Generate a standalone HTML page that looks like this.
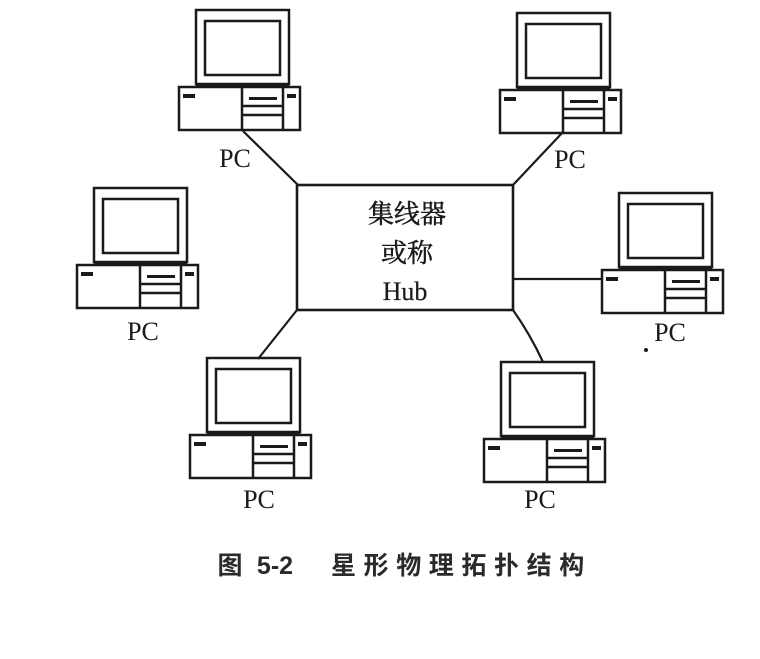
<!DOCTYPE html>
<html><head><meta charset="utf-8"><style>
html,body{margin:0;padding:0;background:#fff;}
svg{display:block;}
.pc{font-family:"Liberation Serif",serif;font-size:26px;fill:#1a1a1a;}
.hz{font-family:"Liberation Serif","Noto Serif CJK SC",serif;font-size:26px;fill:#1a1a1a;stroke:#1a1a1a;stroke-width:0.5px;}
.cap{font-family:"Liberation Sans","Noto Sans CJK SC",sans-serif;font-size:25px;font-weight:bold;fill:#2a2a2a;}
</style></head><body>
<svg width="760" height="659" viewBox="0 0 760 659" xmlns="http://www.w3.org/2000/svg">
<defs>
<g id="pcs" fill="none" stroke="#1a1a1a" stroke-width="2.5">
  <rect x="17" y="0" width="93" height="74"/>
  <rect x="26" y="11" width="75" height="54"/>
  <rect x="17" y="73" width="93" height="4" fill="#1a1a1a" stroke="none"/>
  <rect x="0" y="77" width="121" height="43"/>
  <line x1="63" y1="77" x2="63" y2="120"/>
  <line x1="104" y1="77" x2="104" y2="120"/>
  <rect x="70" y="87" width="28" height="3" fill="#1a1a1a" stroke="none"/>
  <line x1="63" y1="96" x2="104" y2="96"/>
  <line x1="63" y1="105" x2="104" y2="105"/>
  <rect x="4" y="84" width="12" height="4" fill="#1a1a1a" stroke="none"/>
  <rect x="108" y="84" width="9" height="4" fill="#1a1a1a" stroke="none"/>
</g>
</defs>
<rect width="760" height="659" fill="#fff"/>

<!-- connectors -->
<g stroke="#1a1a1a" stroke-width="2.2" fill="none">
  <line x1="243" y1="131" x2="298" y2="185"/>
  <line x1="563" y1="132" x2="513" y2="185"/>
  <line x1="513" y1="279" x2="603" y2="279"/>
  <line x1="297" y1="310" x2="258" y2="359"/>
  <path d="M513,310 Q530,334 543,362"/>
</g>

<!-- hub -->
<rect x="297" y="185" width="216" height="125" fill="none" stroke="#1a1a1a" stroke-width="2.6"/>
<text class="hz" x="407" y="223" text-anchor="middle">集线器</text>
<text class="hz" x="407" y="262" text-anchor="middle">或称</text>
<text class="hz" x="405" y="300" text-anchor="middle" style="stroke-width:0.2px">Hub</text>

<!-- PCs -->
<use href="#pcs" transform="translate(179,10)"/>
<use href="#pcs" transform="translate(500,13)"/>
<use href="#pcs" transform="translate(77,188)"/>
<use href="#pcs" transform="translate(602,193)"/>
<use href="#pcs" transform="translate(190,358)"/>
<use href="#pcs" transform="translate(484,362)"/>

<text class="pc" x="235" y="167" text-anchor="middle">PC</text>
<text class="pc" x="570" y="168" text-anchor="middle">PC</text>
<text class="pc" x="143" y="340" text-anchor="middle">PC</text>
<text class="pc" x="670" y="341" text-anchor="middle">PC</text>
<text class="pc" x="259" y="508" text-anchor="middle">PC</text>
<text class="pc" x="540" y="508" text-anchor="middle">PC</text>
<circle cx="646" cy="350" r="2" fill="#1a1a1a"/>

<!-- caption -->
<text class="cap" x="230" y="574" text-anchor="middle">图</text>
<text class="cap" x="275" y="574" text-anchor="middle">5-2</text>
<text class="cap" x="343.5" y="574" text-anchor="middle">星</text>
<text class="cap" x="376.1" y="574" text-anchor="middle">形</text>
<text class="cap" x="408.7" y="574" text-anchor="middle">物</text>
<text class="cap" x="441.3" y="574" text-anchor="middle">理</text>
<text class="cap" x="473.9" y="574" text-anchor="middle">拓</text>
<text class="cap" x="506.5" y="574" text-anchor="middle">扑</text>
<text class="cap" x="539.1" y="574" text-anchor="middle">结</text>
<text class="cap" x="571.7" y="574" text-anchor="middle">构</text>
</svg>
</body></html>
